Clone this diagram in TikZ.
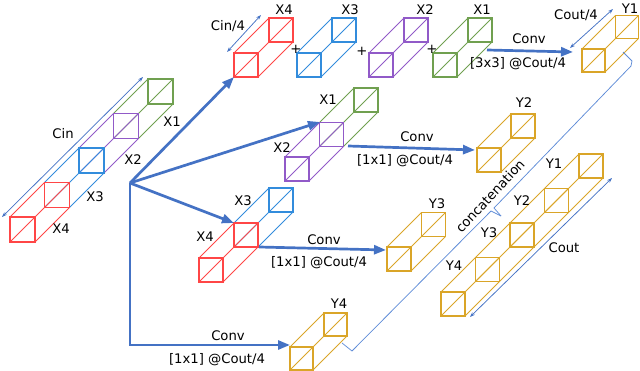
\documentclass[tikz,border=0pt]{standalone}
\usepackage{fontspec}
\setmainfont{DejaVu Sans}
\usetikzlibrary{arrows.meta}
\definecolor{cred}{RGB}{255,70,70}
\definecolor{cblue}{RGB}{50,140,220}
\definecolor{cpurp}{RGB}{145,90,200}
\definecolor{cgreen}{RGB}{112,160,80}
\definecolor{cgold}{RGB}{218,165,40}
\definecolor{abl}{RGB}{68,114,196}
\definecolor{thinbl}{RGB}{95,140,215}
% #1 x, #2 y (front top-left), #3 size, #4 depth, #5 colour
\newcommand{\cuboid}[5]{%
  \draw[edge,#5] (#1,#2) -- ++(#4,-#4);
  \draw[edge,#5] ({#1+#3},{#2+#3}) -- ++(#4,-#4);
  \draw[edge,#5] (#1,{#2+#3}) -- ++({#3+#4},{-#3-#4});
  \draw[sq,#5] (#1,#2) rectangle ++(#3,#3);
  \draw[sq,#5] ({#1+#4},{#2-#4}) rectangle ++(#3,#3);
}
\begin{document}
\begin{tikzpicture}[x=1pt,y=-1pt,
  edge/.style={line width=0.85pt},
  sq/.style={line width=1.25pt},
  lbl/.style={inner sep=0pt, font=\fontsize{13.2}{15}\selectfont, text=black},
  fatarrow/.style={draw=abl, line width=2.7pt, -{Triangle[length=12pt,width=9pt]}},
  dimarrow/.style={draw=abl, line width=0.75pt, {Stealth[length=5pt,width=3.5pt]}-{Stealth[length=5pt,width=3.5pt]}},
  braceline/.style={draw=thinbl, line width=0.75pt, line join=round},
]
\useasboundingbox (0,0) rectangle (640,371);

% ---- input stack (Cin)
\cuboid{113.5}{113.5}{25}{34.5}{cgreen}
\cuboid{79}{148}{25}{34.5}{cpurp}
\cuboid{44.5}{182.5}{25}{34.5}{cblue}
\cuboid{10}{217}{25}{34.5}{cred}
\coordinate (cinA) at (2,217);
\coordinate (cinB) at (143,77);
\draw[dimarrow] (cinA) -- (cinB);
\node[lbl] (tcin) at (63,134) {Cin};
\node[lbl] (tx1) at (172,122) {X1};
\node[lbl] (tx2) at (133,160) {X2};
\node[lbl] (tx3) at (95,197) {X3};
\node[lbl] (tx4) at (61,229) {X4};

% ---- top row
\cuboid{234}{53}{24}{35}{cred}
\cuboid{297}{53}{24}{35}{cblue}
\cuboid{369}{53}{24}{35}{cpurp}
\cuboid{433}{53}{24}{35}{cgreen}
\node[lbl] (ttx4) at (284,10) {X4};
\node[lbl] (ttx3) at (350,10) {X3};
\node[lbl] (ttx2) at (425,10) {X2};
\node[lbl] (ttx1) at (482,10) {X1};
\node[lbl] (plus1) at (296,49) {+};
\node[lbl] (plus2) at (362,51) {+};
\node[lbl] (plus3) at (432,49) {+};
\coordinate (c4a) at (227,52);
\coordinate (c4b) at (261,15);
\draw[dimarrow] (c4a) -- (c4b);
\node[lbl] (tcin4) at (228,26) {Cin/4};

% Y1 (top)
\cuboid{582}{49}{23}{33.5}{cgold}
\node[lbl] (ty1t) at (630,9) {Y1};
\coordinate (co4a) at (570,48);
\coordinate (co4b) at (613,9);
\draw[dimarrow] (co4a) -- (co4b);
\node[lbl] (tcout4) at (576,15) {Cout/4};
\coordinate (conv1s) at (487,50);
\coordinate (conv1e) at (573,52);
\draw[fatarrow] (conv1s) -- (conv1e);
\node[lbl] (tconv1) at (529,39) {Conv};
\node[lbl] (tk1) at (518,64) {[3x3] @Cout/4};

% ---- middle branch (X1/X2)
\cuboid{319.5}{122.5}{24}{34.5}{cgreen}
\cuboid{285}{157}{24}{34.5}{cpurp}
\node[lbl] (tmx1) at (328,100) {X1};
\node[lbl] (tmx2) at (282,148) {X2};
\coordinate (conv2s) at (348,146);
\coordinate (conv2e) at (475,150);
\draw[fatarrow] (conv2s) -- (conv2e);
\node[lbl] (tconv2) at (417,137) {Conv};
\node[lbl] (tk2) at (405,161) {[1x1] @Cout/4};
\cuboid{477}{148}{24}{34}{cgold}
\node[lbl] (ty2) at (524,103) {Y2};

% ---- lower branch (X3/X4)
\cuboid{234}{223}{24}{35}{cblue}
\cuboid{199}{258}{24}{35}{cred}
\node[lbl] (tlx3) at (243,201) {X3};
\node[lbl] (tlx4) at (205,237) {X4};
\coordinate (conv3s) at (259,247);
\coordinate (conv3e) at (386,250);
\draw[fatarrow] (conv3s) -- (conv3e);
\node[lbl] (tconv3) at (324,240) {Conv};
\node[lbl] (tk3) at (319,263) {[1x1] @Cout/4};
\cuboid{387}{247}{24}{34.5}{cgold}
\node[lbl] (ty3) at (437,204) {Y3};

% ---- bottom branch
\cuboid{290}{347}{23}{34}{cgold}
\node[lbl] (ty4) at (339,304) {Y4};
\node[lbl] (tconv4) at (228,336) {Conv};
\node[lbl] (tk4) at (217,360) {[1x1] @Cout/4};

% ---- fan arrows
\coordinate (fan) at (130,183);
\coordinate (tx4in) at (234,77);
\coordinate (mx12in) at (320,122);
\coordinate (lx34in) at (234,223);
\coordinate (y4in) at (290,345);
\draw[fatarrow] (fan) -- (tx4in);
\draw[fatarrow] (fan) -- (mx12in);
\draw[fatarrow] (fan) -- (lx34in);
\draw[fatarrow] (fan) |- (y4in);

% ---- concatenated output
\cuboid{544.5}{188.5}{24}{34.5}{cgold}
\cuboid{510}{223}{24}{34.5}{cgold}
\cuboid{475.5}{257.5}{24}{34.5}{cgold}
\cuboid{441}{292}{24}{34.5}{cgold}
\node[lbl] (cy1) at (554,164) {Y1};
\node[lbl] (cy2) at (522,201) {Y2};
\node[lbl] (cy3) at (489,233) {Y3};
\node[lbl] (cy4) at (454,266) {Y4};
\coordinate (couta) at (470,317);
\coordinate (coutb) at (612,178);
\draw[dimarrow] (couta) -- (coutb);
\node[lbl] (tcout) at (564,248) {Cout};

% ---- brace
\coordinate (br1) at (623,52);
\coordinate (br2) at (632,61);
\coordinate (br3) at (631,66);
\coordinate (br4) at (494,208);
\coordinate (br5) at (501,216);
\coordinate (br6) at (491,211);
\coordinate (br7) at (352,351);
\coordinate (br8) at (342,343);
\draw[braceline] (br1) -- (br2) -- (br3) -- (br4) -- (br5);
\draw[braceline] (br5) -- (br6) -- (br7) -- (br8);
\node[lbl, rotate=47] (tconcat) at (490,196) {concatenation};
\end{tikzpicture}
\end{document}
